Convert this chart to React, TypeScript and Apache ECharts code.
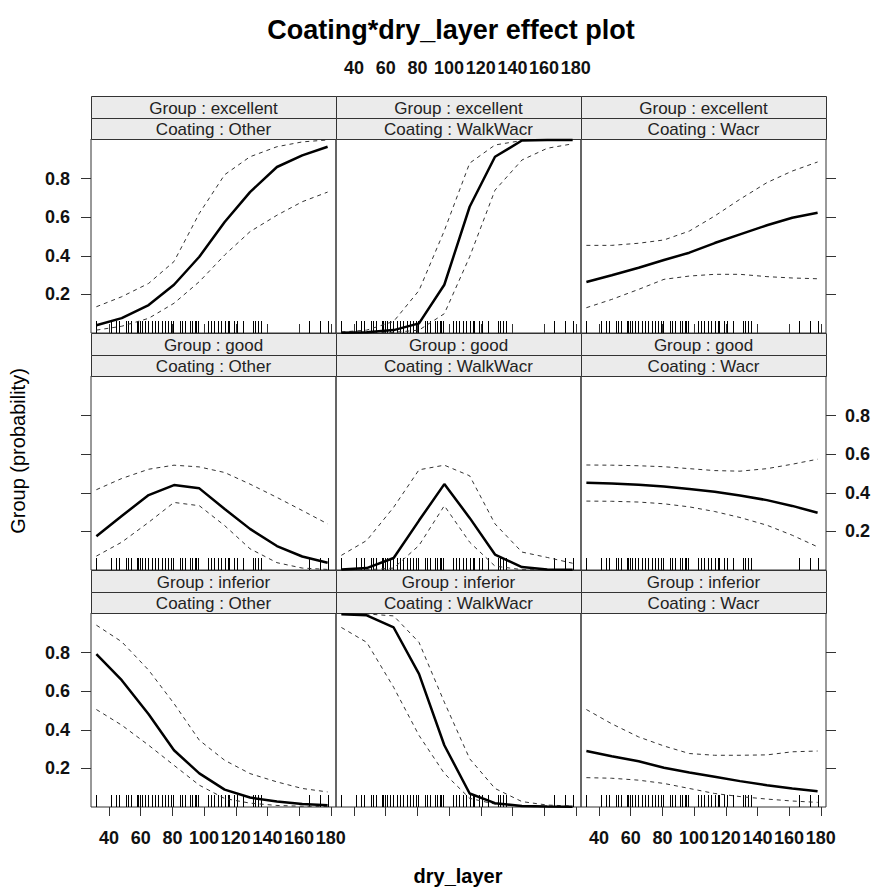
import React, { useEffect, useRef } from "react";
import * as echarts from "echarts";

// ---------- data ----------
const dryLayer = [32, 48, 65, 81, 97, 113, 129, 146, 162, 178];
const groups = ["excellent", "good", "inferior"];
const coatings = ["Other", "WalkWacr", "Wacr"];
const xTicks = [40, 60, 80, 100, 120, 140, 160, 180];
const yTicks = [0.2, 0.4, 0.6, 0.8];

// rug of observed dry_layer values
const rugDryLayer = [
  32, 41, 44.5, 46, 50.5, 52, 54, 57.5, 58.5, 59.5, 60.5, 62.5, 64.5, 67, 69, 71,
  73.5, 75.5, 77, 79, 80.5, 84.5, 86, 88, 91, 92.5, 94, 95, 96, 102.5, 104.5,
  106.5, 109, 111, 113, 115, 116, 119, 120.5, 124.5, 131, 132, 134, 136, 166.5,
  173.5, 178.5,
];

// Group : excellent
const fitExcellentOther = [0.04, 0.077, 0.145, 0.25, 0.395, 0.575, 0.73, 0.86, 0.92, 0.965];
const upperExcellentOther = [0.136, 0.188, 0.257, 0.37, 0.62, 0.82, 0.913, 0.965, 0.99, 1.0];
const lowerExcellentOther = [0.015, 0.035, 0.076, 0.154, 0.266, 0.404, 0.525, 0.61, 0.68, 0.73];
const fitExcellentWalkWacr = [0.001, 0.004, 0.015, 0.05, 0.25, 0.654, 0.913, 0.997, 1.0, 1.0];
const upperExcellentWalkWacr = [0.005, 0.015, 0.06, 0.22, 0.53, 0.88, 0.974, 0.997, 1.0, 1.0];
const lowerExcellentWalkWacr = [0.0, 0.0, 0.003, 0.015, 0.1, 0.395, 0.74, 0.896, 0.957, 0.98];
const fitExcellentWacr = [0.264, 0.299, 0.338, 0.378, 0.416, 0.466, 0.511, 0.558, 0.597, 0.623];
const upperExcellentWacr = [0.454, 0.454, 0.465, 0.482, 0.528, 0.606, 0.693, 0.779, 0.839, 0.886];
const lowerExcellentWacr = [0.131, 0.174, 0.226, 0.278, 0.295, 0.304, 0.304, 0.292, 0.285, 0.281];

// Group : good
const fitGoodOther = [0.175, 0.28, 0.388, 0.44, 0.423, 0.316, 0.213, 0.124, 0.07, 0.038];
const upperGoodOther = [0.416, 0.474, 0.522, 0.543, 0.534, 0.505, 0.445, 0.376, 0.308, 0.239];
const lowerGoodOther = [0.072, 0.144, 0.247, 0.35, 0.333, 0.23, 0.11, 0.038, 0.01, 0.003];
const fitGoodWalkWacr = [0.002, 0.01, 0.062, 0.256, 0.445, 0.27, 0.08, 0.015, 0.003, 0.001];
const upperGoodWalkWacr = [0.076, 0.153, 0.325, 0.519, 0.543, 0.488, 0.239, 0.093, 0.065, 0.035];
const lowerGoodWalkWacr = [0.0, 0.001, 0.01, 0.127, 0.333, 0.144, 0.02, 0.002, 0.0, 0.0];
const fitGoodWacr = [0.452, 0.448, 0.442, 0.433, 0.42, 0.405, 0.386, 0.362, 0.332, 0.297];
const upperGoodWacr = [0.544, 0.543, 0.54, 0.535, 0.525, 0.515, 0.512, 0.525, 0.548, 0.574];
const lowerGoodWacr = [0.357, 0.356, 0.352, 0.343, 0.327, 0.303, 0.272, 0.232, 0.18, 0.12];

// Group : inferior
const fitInferiorOther = [0.792, 0.657, 0.48, 0.294, 0.174, 0.09, 0.049, 0.028, 0.015, 0.009];
const upperInferiorOther = [0.942, 0.856, 0.709, 0.536, 0.346, 0.242, 0.173, 0.13, 0.096, 0.078];
const lowerInferiorOther = [0.505, 0.424, 0.32, 0.216, 0.113, 0.044, 0.02, 0.008, 0.004, 0.002];
const fitInferiorWalkWacr = [0.998, 0.993, 0.93, 0.69, 0.32, 0.07, 0.02, 0.005, 0.002, 0.001];
const upperInferiorWalkWacr = [1.0, 1.0, 0.99, 0.853, 0.543, 0.25, 0.096, 0.028, 0.01, 0.005];
const lowerInferiorWalkWacr = [0.93, 0.853, 0.62, 0.371, 0.174, 0.045, 0.015, 0.003, 0.001, 0.0];
const fitInferiorWacr = [0.29, 0.263, 0.237, 0.203, 0.179, 0.157, 0.134, 0.113, 0.096, 0.082];
const upperInferiorWacr = [0.505, 0.431, 0.363, 0.316, 0.277, 0.268, 0.268, 0.27, 0.286, 0.29];
const lowerInferiorWacr = [0.152, 0.149, 0.139, 0.122, 0.096, 0.07, 0.054, 0.041, 0.031, 0.024];

const panelData = [
  [fitExcellentOther, lowerExcellentOther, upperExcellentOther],
  [fitExcellentWalkWacr, lowerExcellentWalkWacr, upperExcellentWalkWacr],
  [fitExcellentWacr, lowerExcellentWacr, upperExcellentWacr],
  [fitGoodOther, lowerGoodOther, upperGoodOther],
  [fitGoodWalkWacr, lowerGoodWalkWacr, upperGoodWalkWacr],
  [fitGoodWacr, lowerGoodWacr, upperGoodWacr],
  [fitInferiorOther, lowerInferiorOther, upperInferiorOther],
  [fitInferiorWalkWacr, lowerInferiorWalkWacr, upperInferiorWalkWacr],
  [fitInferiorWacr, lowerInferiorWacr, upperInferiorWacr],
];

// ---------- layout ----------
const FONT = "'Liberation Sans', Arial, sans-serif";
const COL_LEFT = [91, 336, 581];
const ROW_TOP = [139, 376, 613];
const PANEL_W = 245;
const PANEL_H = 194;
const STRIP1 = 22;
const STRIP2 = 21;
const X_MIN = 28.6;
const X_MAX = 183.3;
const Y_MIN = 0;
const Y_MAX = 1.005;

function buildOption() {
  const grid: any[] = [];
  const xAxis: any[] = [];
  const yAxis: any[] = [];
  const series: any[] = [];
  const graphic: any[] = [];

  const labelStyle = {
    fontFamily: FONT,
    fontWeight: "bold",
    fontSize: 18,
    color: "#111",
  };

  for (let i = 0; i < 9; i++) {
    const row = Math.floor(i / 3);
    const col = i % 3;
    const left = COL_LEFT[col];
    const top = ROW_TOP[row];
    grid.push({
      left,
      top,
      width: PANEL_W,
      height: PANEL_H,
      show: true,
      borderColor: "#333",
      borderWidth: 1,
      backgroundColor: "transparent",
    });

    const mkX = (position: string, ticks: boolean, labels: boolean, offset: number, margin: number) => ({
      type: "value",
      gridIndex: i,
      position,
      offset,
      min: X_MIN,
      max: X_MAX,
      axisLine: { show: false },
      splitLine: { show: false },
      axisTick: {
        show: ticks,
        customValues: xTicks,
        length: 9,
        lineStyle: { color: "#333", width: 1 },
      },
      axisLabel: {
        show: labels,
        customValues: xTicks,
        margin,
        ...labelStyle,
      },
    });
    const mkY = (position: string, ticks: boolean, labels: boolean, margin: number) => ({
      type: "value",
      gridIndex: i,
      position,
      min: Y_MIN,
      max: Y_MAX,
      axisLine: { show: false },
      splitLine: { show: false },
      axisTick: {
        show: ticks,
        customValues: yTicks,
        length: 10,
        lineStyle: { color: "#333", width: 1 },
      },
      axisLabel: {
        show: labels,
        customValues: yTicks,
        margin,
        formatter: (v: number) => v.toFixed(1),
        ...labelStyle,
      },
    });

    xAxis.push(mkX("bottom", row === 2, row === 2 && col !== 1, 0, 22));
    xAxis.push(mkX("top", row === 0, row === 0 && col === 1, STRIP1 + STRIP2, 19));
    yAxis.push(mkY("left", col === 0, col === 0 && row !== 1, 21));
    yAxis.push(mkY("right", col === 2, col === 2 && row === 1, 19));

    const [fit, lower, upper] = panelData[i];
    const dashed = {
      type: "line",
      xAxisIndex: 2 * i,
      yAxisIndex: 2 * i,
      symbol: "none",
      showSymbol: false,
      clip: true,
      silent: true,
      lineStyle: { color: "#333", width: 1, type: [4, 4] },
    };
    series.push({ ...dashed, data: dryLayer.map((x, k) => [x, upper[k]]) });
    series.push({ ...dashed, data: dryLayer.map((x, k) => [x, lower[k]]) });
    series.push({
      type: "line",
      xAxisIndex: 2 * i,
      yAxisIndex: 2 * i,
      symbol: "none",
      showSymbol: false,
      clip: true,
      silent: true,
      lineStyle: { color: "#000", width: 2.5 },
      data: dryLayer.map((x, k) => [x, fit[k]]),
    });
    series.push({
      type: "custom",
      xAxisIndex: 2 * i,
      yAxisIndex: 2 * i,
      silent: true,
      clip: true,
      data: rugDryLayer.map((x) => [x, 0]),
      encode: { x: 0, y: 1 },
      renderItem: (params: any, api: any) => {
        const p = api.coord([api.value(0), api.value(1)]);
        const xx = Math.round(p[0]) + 0.5;
        return {
          type: "line",
          shape: { x1: xx, y1: p[1], x2: xx, y2: p[1] - 12 },
          style: { stroke: "#000", lineWidth: 1 },
        };
      },
    });

    // strips
    const s1y = top - STRIP1 - STRIP2;
    const s2y = top - STRIP2;
    graphic.push({
      type: "rect",
      shape: { x: left + 0.5, y: s1y + 0.5, width: PANEL_W, height: STRIP1 },
      style: { fill: "#ebebeb", stroke: "#333", lineWidth: 1 },
      silent: true,
    });
    graphic.push({
      type: "rect",
      shape: { x: left + 0.5, y: s2y + 0.5, width: PANEL_W, height: STRIP2 },
      style: { fill: "#ebebeb", stroke: "#333", lineWidth: 1 },
      silent: true,
    });
    graphic.push({
      type: "text",
      x: left + PANEL_W / 2,
      y: s1y + STRIP1 / 2 + 1,
      style: {
        text: "Group : " + groups[row],
        fontFamily: FONT,
        fontSize: 17,
        fill: "#222",
        align: "center",
        verticalAlign: "middle",
      },
      silent: true,
    });
    graphic.push({
      type: "text",
      x: left + PANEL_W / 2,
      y: s2y + STRIP2 / 2 + 1,
      style: {
        text: "Coating : " + coatings[col],
        fontFamily: FONT,
        fontSize: 17,
        fill: "#222",
        align: "center",
        verticalAlign: "middle",
      },
      silent: true,
    });
  }

  graphic.push({
    type: "text",
    x: 451,
    y: 30,
    style: {
      text: "Coating*dry_layer effect plot",
      fontFamily: FONT,
      fontWeight: "bold",
      fontSize: 27,
      fill: "#000",
      align: "center",
      verticalAlign: "middle",
    },
  });
  graphic.push({
    type: "text",
    x: 458,
    y: 876,
    style: {
      text: "dry_layer",
      fontFamily: FONT,
      fontWeight: "bold",
      fontSize: 20,
      fill: "#000",
      align: "center",
      verticalAlign: "middle",
    },
  });
  graphic.push({
    type: "text",
    x: 18,
    y: 451,
    rotation: Math.PI / 2,
    style: {
      text: "Group (probability)",
      fontFamily: FONT,
      fontSize: 20,
      fill: "#000",
      align: "center",
      verticalAlign: "middle",
    },
  });

  return {
    animation: false,
    backgroundColor: "#fff",
    grid,
    xAxis,
    yAxis,
    series,
    graphic,
  };
}

export default function App() {
  const ref = useRef<HTMLDivElement>(null);
  useEffect(() => {
    if (!ref.current) return;
    const chart = echarts.init(ref.current, null, { renderer: "svg" });
    chart.setOption(buildOption() as any);
    return () => chart.dispose();
  }, []);
  return (
    <div
      ref={ref}
      style={{ position: "absolute", left: 0, top: 0, width: 874, height: 888, background: "#fff" }}
    />
  );
}
